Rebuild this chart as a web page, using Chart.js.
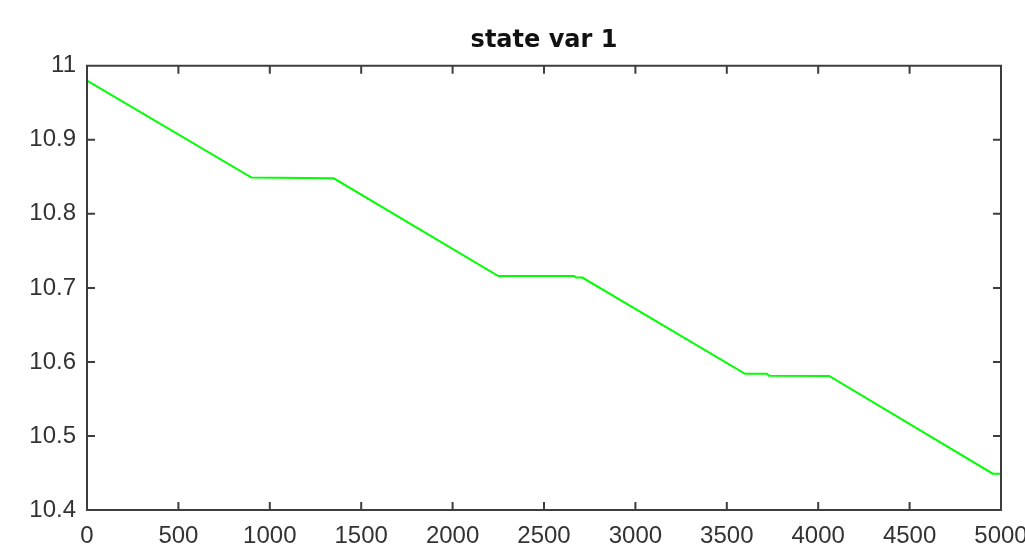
<!DOCTYPE html>
<html>
<head>
<meta charset="utf-8">
<title>state var 1</title>
<script src="https://cdn.jsdelivr.net/npm/chart.js@4"></script>
<style>
  body { margin: 0; background: #fff; }
</style>
</head>
<body>
<canvas id="myChart" width="1025" height="547"></canvas>
<script>
// sample index and value of state variable 1 at each corner of the trace
var sampleX = [0, 900, 1350, 2250, 2665, 2675, 2710, 3600, 3720, 3730, 4060, 4955, 5000];
var stateVar1 = [10.980, 10.849, 10.848, 10.716, 10.716, 10.714, 10.714, 10.584, 10.584, 10.5815, 10.581, 10.449, 10.449];

var xTicks = [0, 500, 1000, 1500, 2000, 2500, 3000, 3500, 4000, 4500, 5000];
var yTicks = [10.4, 10.5, 10.6, 10.7, 10.8, 10.9, 11];

var axisColor = '#3d3d3d';

// box around the axes with inward tick marks on all four sides
var boxTicks = {
  id: 'boxTicks',
  afterLayout: function(chart) {
    // centre the title over the plot area rather than the whole canvas
    if (chart.titleBlock) {
      chart.titleBlock.left = chart.chartArea.left;
      chart.titleBlock.right = chart.chartArea.right;
    }
  },
  afterDraw: function(chart) {
    var c = chart.ctx, a = chart.chartArea;
    var xs = chart.scales.x, ys = chart.scales.y;
    var len = 8;
    c.save();
    c.strokeStyle = axisColor;
    c.lineWidth = 2;
    c.beginPath();
    c.rect(a.left, a.top, a.right - a.left, a.bottom - a.top);
    xs.ticks.forEach(function(t) {
      var px = xs.getPixelForValue(t.value);
      c.moveTo(px, a.bottom); c.lineTo(px, a.bottom - len);
      c.moveTo(px, a.top); c.lineTo(px, a.top + len);
    });
    ys.ticks.forEach(function(t) {
      var py = ys.getPixelForValue(t.value);
      c.moveTo(a.left, py); c.lineTo(a.left + len, py);
      c.moveTo(a.right, py); c.lineTo(a.right - len, py);
    });
    c.stroke();
    c.restore();
  }
};

var points = sampleX.map(function(x, i) { return {x: x, y: stateVar1[i]}; });

var ctx = document.getElementById('myChart').getContext('2d');
var myChart = new Chart(ctx, {
  type: 'line',
  data: {
    datasets: [{
      data: points,
      borderColor: '#00ff00',
      borderWidth: 2,
      pointRadius: 0,
      tension: 0,
      fill: false
    }]
  },
  options: {
    responsive: false,
    animation: false,
    layout: { padding: { left: 0, right: 24, top: 0, bottom: 0 } },
    plugins: {
      legend: { display: false },
      tooltip: { enabled: false },
      title: {
        display: true,
        text: 'state var 1',
        color: '#111',
        font: { family: 'DejaVu Sans', size: 24, weight: 'bold' },
        padding: { top: 26, bottom: 11 }
      }
    },
    scales: {
      x: {
        type: 'linear',
        min: 0,
        max: 5000,
        afterBuildTicks: function(scale) {
          scale.ticks = xTicks.map(function(v) { return {value: v}; });
        },
        afterFit: function(scale) {
          scale.height = 37;
          scale.paddingLeft = 0;
          scale.paddingRight = 0;
        },
        grid: { display: false, drawTicks: false },
        border: { display: false },
        ticks: {
          color: '#333',
          padding: 12,
          maxRotation: 0,
          autoSkip: false,
          font: { family: 'Liberation Sans', size: 24 },
          callback: function(v) { return String(v); }
        }
      },
      y: {
        min: 10.4,
        max: 11,
        afterBuildTicks: function(scale) {
          scale.ticks = yTicks.map(function(v) { return {value: v}; });
        },
        afterFit: function(scale) {
          scale.width = 87;
        },
        grid: { display: false, drawTicks: false },
        border: { display: false },
        ticks: {
          color: '#333',
          padding: 11,
          autoSkip: false,
          font: { family: 'Liberation Sans', size: 24 },
          callback: function(v) { return String(v); }
        }
      }
    }
  },
  plugins: [boxTicks]
});
</script>
</body>
</html>
